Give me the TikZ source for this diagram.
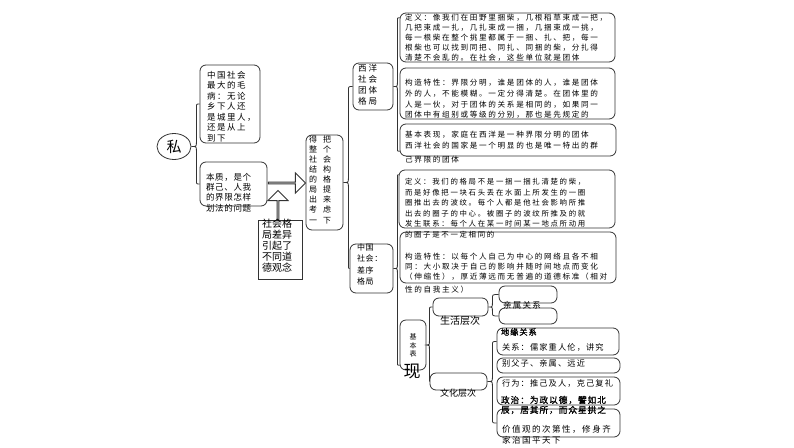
\documentclass[tikz,border=0pt]{standalone}
\usepackage{fontspec}
\newfontfamily\cjk{Noto Sans CJK SC}
\newfontfamily\cjkA{Noto Sans CJK SC}[LetterSpace=18]
\newfontfamily\cjkB{Noto Sans CJK SC}[LetterSpace=8]
\newfontfamily\cjkW{Noto Sans CJK SC}[LetterSpace=24]
\newfontfamily\cjkT{Noto Sans CJK SC}[LetterSpace=22]
\newfontfamily\cjkZ{Noto Sans CJK SC}[LetterSpace=23]
\newfontfamily\cjkK{Noto Sans CJK SC}[LetterSpace=14]
\newfontfamily\cjkbold{Noto Sans CJK SC}[FakeBold=1.4,LetterSpace=12]
\usetikzlibrary{calc,shapes.geometric,shapes.arrows}
\tikzset{
  rbox/.style={draw=black!80, line width=0.8pt, rounded corners=6pt, inner sep=0pt},
  sbox/.style={draw=black!80, line width=0.8pt, inner sep=0pt},
  conn/.style={draw=black!80, line width=0.8pt},
  txt/.style={inner sep=0pt, outer sep=0pt, align=left, anchor=west, text=black},
  ctxt/.style={inner sep=0pt, outer sep=0pt, align=center, anchor=center, text=black},
  blockarrow/.style={single arrow, draw=black!80, line width=0.9pt, fill=white,
     minimum width=20pt, single arrow head extend=5pt, inner sep=0pt},
}
\newcommand\boxat[6]{\node[#1, minimum width={(#5-#3)*1pt}, minimum height={(#6-#4)*1pt}] (#2) at ({(#3+#5)/2},{(#4+#6)/2}) {};}
\newcommand\curly[4]{%
  \draw[conn] let \p1=(#1), \p2=(#3), \p3=(#4), \n1={\x1+#2} in
   (\p2) .. controls ({\n1*1pt},\y2) .. ({\n1*1pt},\y2-4pt)
   -- ({\n1*1pt},\y1+4pt) .. controls ({\n1*1pt},\y1) .. (\p1)
   .. controls ({\n1*1pt},\y1) .. ({\n1*1pt},\y1-4pt)
   -- ({\n1*1pt},\y3+4pt) .. controls ({\n1*1pt},\y3) .. (\p3);}
\begin{document}
\begin{tikzpicture}[x=1pt,y=-1pt]
\useasboundingbox[fill=white] (0,0) rectangle (794,447);

% root
\node[ellipse, draw=black!80, line width=0.8pt, minimum width=34pt, minimum height=26pt, inner sep=0pt,
  font=\cjk\fontsize{15}{15}\selectfont] (P) at (174,146.5) {私};

% boxes
\boxat{rbox}{A}{200}{65}{260}{143}
\boxat{rbox}{B}{200}{162}{267}{206}
\boxat{sbox}{C}{258}{220}{302}{279}
\boxat{rbox}{D}{306}{135}{343}{230}
\boxat{rbox}{W}{353}{63}{393}{110}
\boxat{rbox}{Wa}{400}{13}{615}{62}
\boxat{rbox}{Wb}{400}{68}{615}{119}
\boxat{rbox}{Wc}{400}{124}{616}{156}
\boxat{rbox}{Z}{350}{244}{393}{293}
\boxat{rbox}{Za}{399}{170}{615}{228}
\boxat{rbox}{Zb}{400}{232}{616}{283}
\boxat{rbox}{J}{400}{320}{426}{370}
\boxat{rbox}{S}{433}{298}{488}{316}
\boxat{rbox}{S1}{499}{286}{557}{303}
\boxat{rbox}{S2}{499}{308}{557}{324}
\boxat{rbox}{Cu}{430}{373}{487}{390}
\boxat{rbox}{K1}{497}{328}{619}{355}
\boxat{rbox}{K2}{497}{358}{620}{373}
\boxat{rbox}{K3}{497}{377}{620}{405}
\boxat{rbox}{K4}{497}{409}{620}{437}

% block arrows
\node[blockarrow, minimum height=37pt] (arrR) at (286.5,183) {};
\node[blockarrow, minimum height=29pt, rotate=90] (arrU) at (278,205.5) {};

% braces
\curly{P.east}{5}{A.west}{B.west}
\curly{D.east}{5}{W.west}{Z.west}
\curly{W.east}{4}{[yshift=-5pt]Wa.north west}{[yshift=5pt]Wc.south west}
\curly{Z.east}{4}{[yshift=-5pt]Za.north west}{[yshift=5pt]J.south west}
\curly{J.east}{3}{S.west}{Cu.west}
\curly{S.east}{4}{S1.west}{S2.west}
\curly{Cu.east}{5}{K1.west}{K4.west}

% texts
\node[txt, font=\cjkA\fontsize{8.5}{10.5}\selectfont] (tA) at (207,106.5)
  {中国社会\\最大的毛\\病：无论\\乡下人还\\是城里人，\\还是从上\\到下};
\node[txt, font=\cjkB\fontsize{8.5}{10.33}\selectfont] (tB) at (206,192.5)
  {本质，是个\\群己、人我\\的界限怎样\\划法的问题};
\node[txt, font=\cjk\fontsize{10}{11.1}\selectfont] (tC) at (262,245.8)
  {社会格\\局差异\\引起了\\不同道\\德观念};
\node[ctxt, font=\cjk\fontsize{8}{10.125}\selectfont] (tD) at (320,179.5)
  {得\hspace{6pt}把\\整\hspace{6pt}个\\社\hspace{6pt}会\\结\hspace{6pt}构\\的\hspace{6pt}格\\局\hspace{6pt}提\\出\hspace{6pt}来\\考\hspace{6pt}虑\\一\hspace{6pt}下};
\node[txt, font=\cjkW\fontsize{8.5}{11}\selectfont] (tW) at (358,84.5)
  {西洋\\社会\\团体\\格局};
\node[txt, font=\cjkT\fontsize{7.6}{10}\selectfont] (tWa) at (405,38)
  {定义：像我们在田野里捆柴，几根稻草束成一把，\\几把束成一扎，几扎束成一捆，几捆束成一挑，\\每一根柴在整个挑里都属于一捆、扎、把，每一\\根柴也可以找到同把、同扎、同捆的柴，分扎得\\清楚不会乱的。在社会，这些单位就是团体};
\node[txt, font=\cjkT\fontsize{7.6}{10.67}\selectfont] (tWb) at (405,99)
  {构造特性：界限分明，谁是团体的人，谁是团体\\外的人，不能模糊。一定分得清楚。在团体里的\\人是一伙，对于团体的关系是相同的，如果同一\\团体中有组别或等级的分别，那也是先规定的};
\node[txt, font=\cjkT\fontsize{7.6}{10.5}\selectfont] (tWc) at (405,147.5)
  {基本表现，家庭在西洋是一种界限分明的团体\\西洋社会的国家是一个明显的也是唯一特出的群\\[4pt]己界限的团体};
\node[txt, font=\cjkB\fontsize{8}{11.5}\selectfont] (tZ) at (357,264.5)
  {中国\\社会：\\差序\\格局};
\node[txt, font=\cjkZ\fontsize{7.4}{10.5}\selectfont] (tZa) at (405,208.25)
  {定义：我们的格局不是一捆一捆扎清楚的柴，\\而是好像把一块石头丢在水面上所发生的一圈\\圈推出去的波纹。每个人都是他社会影响所推\\出去的圈子的中心。被圈子的波纹所推及的就\\发生联系：每个人在某一时间某一地点所动用\\的圈子是不一定相同的};
\node[txt, font=\cjkT\fontsize{7.6}{10}\selectfont] (tZb) at (405,273.5)
  {构造特性：以每个人自己为中心的网络且各不相\\同：大小取决于自己的影响并随时间地点而变化\\（伸缩性），厚近薄远而无普遍的道德标准（相对\\[3pt]性的自我主义）};
\node[ctxt, font=\cjk\fontsize{7}{7}\selectfont] (tJ1) at (413,337) {基};
\node[ctxt, font=\cjk\fontsize{7}{7}\selectfont] (tJ2) at (413,345.5) {本};
\node[ctxt, font=\cjk\fontsize{7}{7}\selectfont] (tJ3) at (413,354) {表};
\node[ctxt, font=\cjk\fontsize{17}{17}\selectfont] (tJ4) at (412,371) {现};
\node[ctxt, font=\cjk\fontsize{10}{10}\selectfont] (tS) at (460,321) {生活层次};
\node[ctxt, font=\cjk\fontsize{9}{9}\selectfont] (tCu) at (458,393) {文化层次};
\node[ctxt, font=\cjkK\fontsize{8.5}{8.5}\selectfont] (tS12) at (522,305) {亲属关系};
\node[txt, font=\cjkbold\fontsize{8.2}{8.2}\selectfont] (tK1a) at (501,332) {地缘关系};
\node[txt, font=\cjkK\fontsize{8.2}{8.2}\selectfont] (tK1b) at (502,347) {关系：儒家重人伦，讲究};
\node[txt, font=\cjkK\fontsize{8.2}{8.2}\selectfont] (tK2) at (502,363) {别父子、亲属、远近};
\node[txt, font=\cjkK\fontsize{8.2}{8.2}\selectfont] (tK3a) at (502,383) {行为：推己及人，克己复礼};
\node[txt, font=\cjkbold\fontsize{8.6}{8.6}\selectfont] (tK3b) at (501,400) {政治：为政以德，譬如北};
\node[txt, font=\cjkbold\fontsize{8.6}{8.6}\selectfont] (tK3c) at (501,410) {辰，居其所，而众星拱之};
\node[txt, font=\cjkA\fontsize{8.5}{8.5}\selectfont] (tK4a) at (502,429) {价值观的次第性，修身齐};
\node[txt, font=\cjkA\fontsize{8.5}{8.5}\selectfont] (tK4b) at (502,440) {家治国平天下};
\end{tikzpicture}
\end{document}
